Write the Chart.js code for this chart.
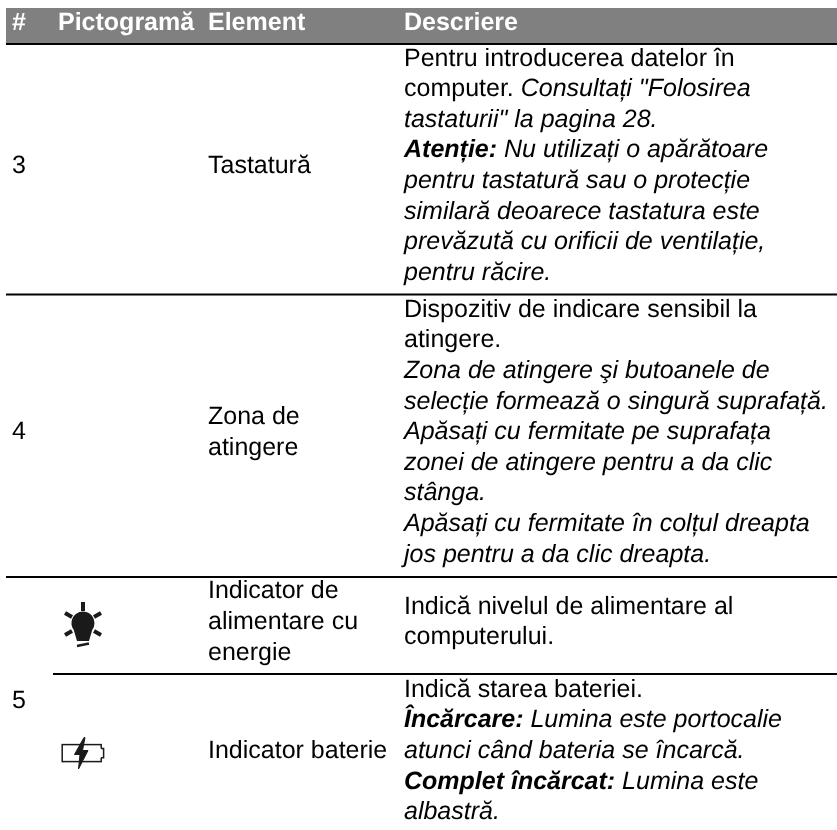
<!DOCTYPE html>
<html>
<head>
<meta charset="utf-8">
<title>Pictograme</title>
<script src="https://cdn.jsdelivr.net/npm/chart.js@4"></script>
<style>
    html, body { margin: 0; padding: 0; background: #fff; }
    canvas { display: block; }
</style>
</head>
<body>
<canvas id="tableChart" width="837" height="830"></canvas>
<script>
// Table content
const headerLabels = ['#', 'Pictogramă', 'Element', 'Descriere'];
const rowNumbers = ['3', '4', '5'];
const elementLines = [
    ['Tastatură'],
    ['Zona de', 'atingere'],
    ['Indicator de', 'alimentare cu', 'energie'],
    ['Indicator baterie'],
];
// n = normal, i = italic, b = bold italic
const descriptionLines = [
    [
        [['n', 'Pentru introducerea datelor în']],
        [['n', 'computer. '], ['i', 'Consultați "Folosirea']],
        [['i', 'tastaturii" la pagina 28.']],
        [['b', 'Atenție: '], ['i', 'Nu utilizați o apărătoare']],
        [['i', 'pentru tastatură sau o protecție']],
        [['i', 'similară deoarece tastatura este']],
        [['i', 'prevăzută cu orificii de ventilație,']],
        [['i', 'pentru răcire.']],
    ],
    [
        [['n', 'Dispozitiv de indicare sensibil la']],
        [['n', 'atingere.']],
        [['i', 'Zona de atingere şi butoanele de']],
        [['i', 'selecție formează o singură suprafață.']],
        [['i', 'Apăsați cu fermitate pe suprafața']],
        [['i', 'zonei de atingere pentru a da clic']],
        [['i', 'stânga.']],
        [['i', 'Apăsați cu fermitate în colțul dreapta']],
        [['i', 'jos pentru a da clic dreapta.']],
    ],
    [
        [['n', 'Indică nivelul de alimentare al']],
        [['n', 'computerului.']],
    ],
    [
        [['n', 'Indică starea bateriei.']],
        [['b', 'Încărcare: '], ['i', 'Lumina este portocalie']],
        [['i', 'atunci când bateria se încarcă.']],
        [['b', 'Complet încărcat: '], ['i', 'Lumina este']],
        [['i', 'albastră.']],
    ],
];

// Layout, in the same pixel units as the two hidden axes
const pageWidth = 837;
const pageHeight = 830;
const tableLeft = 6;
const columnX = [12, 58, 208, 404];
const iconX = 83;
const subRowLeft = 53;
const headerBottom = 43;
const headerBaseline = 30;
const subRowEdges = [44, 294.5, 577, 674, 835];
const lastNumberCenter = 704.5;
const lineHeight = 30.6;
const baselineShift = 3.5;
const fontFamily = '"Liberation Sans", Arial, sans-serif';
const fonts = {
    n: `25px ${fontFamily}`,
    i: `italic 25px ${fontFamily}`,
    b: `italic bold 25px ${fontFamily}`,
    h: `bold 25px ${fontFamily}`,
};

const rowCenter = (i) => (subRowEdges[i] + subRowEdges[i + 1]) / 2;

// Bulb pictogram, used as a point style
const makeBulbIcon = () => {
    const c = document.createElement('canvas');
    c.width = 44;
    c.height = 48;
    const g = c.getContext('2d');
    g.fillStyle = '#1a1a1a';
    g.strokeStyle = '#1a1a1a';
    g.lineWidth = 4;
    [[22, 2, 22, 11], [4, 13, 11, 17], [40, 13, 33, 17], [4, 35, 11, 31], [40, 35, 33, 31]].forEach(r => {
        g.beginPath();
        g.moveTo(r[0], r[1]);
        g.lineTo(r[2], r[3]);
        g.stroke();
    });
    g.beginPath();
    g.arc(22, 23, 11.5, Math.PI * 0.8, Math.PI * 0.2);
    g.lineTo(28, 41);
    g.lineTo(16, 41);
    g.closePath();
    g.fill();
    g.lineWidth = 2.5;
    g.beginPath();
    g.moveTo(16, 46);
    g.lineTo(28, 43.5);
    g.stroke();
    return c;
};

// Battery pictogram, used as a point style
const makeBatteryIcon = () => {
    const c = document.createElement('canvas');
    c.width = 48;
    c.height = 34;
    const g = c.getContext('2d');
    g.strokeStyle = '#1a1a1a';
    g.lineWidth = 1.5;
    g.strokeRect(3.2, 8.6, 39, 17);
    g.fillStyle = '#fff';
    g.fillRect(41, 12.4, 3, 9.4);
    g.beginPath();
    g.moveTo(42, 12.4);
    g.lineTo(44.6, 12.4);
    g.lineTo(44.6, 21.8);
    g.lineTo(42, 21.8);
    g.stroke();
    g.fillStyle = '#1a1a1a';
    g.lineWidth = 1;
    g.beginPath();
    g.moveTo(25, 1.5);
    g.lineTo(15.5, 18.5);
    g.lineTo(21, 18.5);
    g.lineTo(19.5, 33);
    g.lineTo(29, 14.5);
    g.lineTo(23.5, 14.5);
    g.lineTo(26, 1.5);
    g.closePath();
    g.fill();
    g.stroke();
    return c;
};

// Draws the cell text through the scales of the chart
const tableTextPlugin = {
    id: 'tableText',
    afterDatasetsDraw(chart) {
        const { ctx, scales: { x, y } } = chart;
        ctx.save();
        ctx.textBaseline = 'alphabetic';
        ctx.textAlign = 'left';
        ctx.textRendering = 'geometricPrecision';

        // Header
        ctx.fillStyle = '#ffffff';
        ctx.font = fonts.h;
        headerLabels.forEach((label, i) => {
            ctx.fillText(label, x.getPixelForValue(columnX[i]), y.getPixelForValue(headerBaseline));
        });

        ctx.fillStyle = '#000000';

        // Row numbers, the last one spans both sub rows
        ctx.font = fonts.n;
        const numberCenters = [rowCenter(0), rowCenter(1), lastNumberCenter];
        rowNumbers.forEach((label, i) => {
            ctx.fillText(label, x.getPixelForValue(columnX[0]), y.getPixelForValue(numberCenters[i] + baselineShift));
        });

        // Element column
        elementLines.forEach((lines, r) => {
            lines.forEach((line, i) => {
                const base = rowCenter(r) + (i - (lines.length - 1) / 2) * lineHeight + baselineShift;
                ctx.fillText(line, x.getPixelForValue(columnX[2]), y.getPixelForValue(base));
            });
        });

        // Description column, each line can mix several styles
        descriptionLines.forEach((lines, r) => {
            lines.forEach((runs, i) => {
                const base = rowCenter(r) + (i - (lines.length - 1) / 2) * lineHeight + baselineShift;
                let px = x.getPixelForValue(columnX[3]);
                runs.forEach(([style, text]) => {
                    ctx.font = fonts[style];
                    ctx.fillText(text, px, y.getPixelForValue(base));
                    px += ctx.measureText(text).width;
                });
            });
        });
        ctx.restore();
    },
};

const ruleDataset = (xStart, yValue) => ({
    data: [{ x: xStart, y: yValue }, { x: pageWidth, y: yValue }],
    showLine: true,
    borderColor: '#000000',
    borderWidth: 2,
    pointRadius: 0,
});

const chart = new Chart(document.getElementById('tableChart').getContext('2d'), {
    type: 'scatter',
    data: {
        datasets: [
            // Header band
            {
                data: [{ x: tableLeft, y: 8 }, { x: pageWidth, y: 8 }],
                showLine: true,
                borderWidth: 0,
                pointRadius: 0,
                backgroundColor: '#808080',
                fill: { target: { value: headerBottom } },
            },
            ruleDataset(tableLeft, subRowEdges[0]),
            ruleDataset(tableLeft, subRowEdges[1]),
            ruleDataset(tableLeft, subRowEdges[2]),
            ruleDataset(subRowLeft, subRowEdges[3]),
            // Pictograms
            {
                data: [{ x: iconX, y: 624 }, { x: iconX, y: 753 }],
                pointStyle: [makeBulbIcon(), makeBatteryIcon()],
                showLine: false,
            },
        ],
    },
    options: {
        responsive: false,
        animation: false,
        layout: { padding: 0, autoPadding: false },
        scales: {
            x: { type: 'linear', min: 0, max: pageWidth, display: false },
            y: { type: 'linear', min: 0, max: pageHeight, reverse: true, display: false },
        },
        plugins: {
            legend: { display: false },
            title: { display: false },
            tooltip: { enabled: false },
        },
    },
    plugins: [tableTextPlugin],
});
</script>
</body>
</html>
